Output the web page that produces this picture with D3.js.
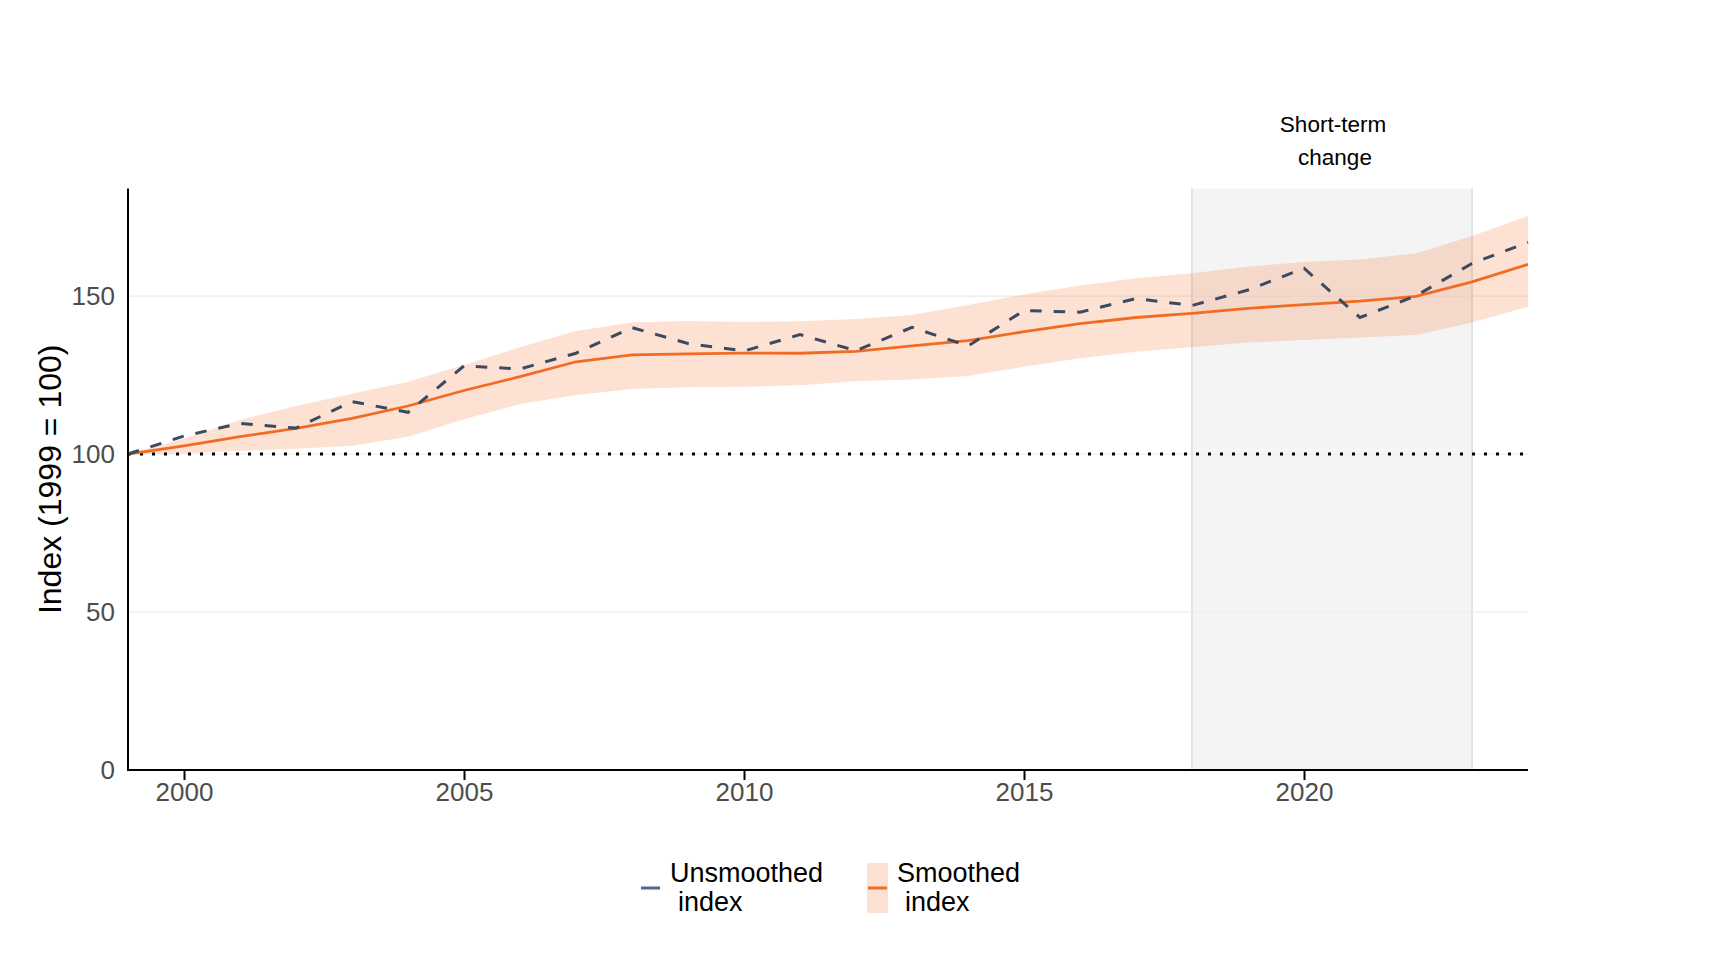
<!DOCTYPE html>
<html>
<head>
<meta charset="utf-8">
<style>
    body { margin: 0; background: white; }
    svg { display: block; font-family: "Liberation Sans", Arial, sans-serif; }
    .axis text { font-size: 26px; fill: #4d4d4d; }
    .grid line { stroke: #ebebeb; stroke-width: 1.2px; }
</style>
</head>
<body>
<svg width="1718" height="960"></svg>

<script src="https://cdn.jsdelivr.net/npm/d3@7"></script>
<script>
    // values
    let years = [1999, 2000, 2001, 2002, 2003, 2004, 2005, 2006, 2007, 2008, 2009, 2010, 2011,
                 2012, 2013, 2014, 2015, 2016, 2017, 2018, 2019, 2020, 2021, 2022, 2023, 2024]
    let unsmoothed = [100, 105.7, 109.7, 108.2, 116.6, 113.2, 127.9, 126.9, 131.9, 140.0, 135.0, 132.6, 137.8,
                      132.7, 140.1, 134.2, 145.4, 144.9, 149.2, 147.0, 151.9, 158.8, 143.2, 150.1, 160.3, 167.0]
    let smoothed = [100, 102.6, 105.5, 108.1, 111.3, 115.2, 120.1, 124.5, 129.2, 131.4, 131.7, 131.9, 131.9,
                    132.5, 134.2, 135.9, 138.7, 141.3, 143.2, 144.5, 146.1, 147.3, 148.4, 149.9, 154.5, 160.0]
    let upper = [100, 104.9, 110.8, 115.2, 119.1, 122.9, 128.2, 133.8, 138.9, 141.6, 142.1, 141.8, 142.0,
                 142.7, 144.0, 147.2, 150.5, 153.3, 155.6, 157.2, 159.3, 160.8, 161.6, 163.5, 169.0, 175.3]
    let lower = [100, 100.2, 101.0, 101.7, 102.6, 105.5, 111.0, 115.8, 118.7, 120.6, 121.1, 121.3, 121.8,
                 123.0, 123.6, 124.7, 127.6, 130.3, 132.4, 133.8, 135.3, 136.1, 136.9, 137.7, 141.6, 146.6]
    let xTicks = [2000, 2005, 2010, 2015, 2020]
    let yTicks = [0, 50, 100, 150]
    let shortTerm = [2018, 2023]
    let baseline = 100

    let orange = "#f26b23"
    let navy = "#3b4a5f"

    let svg = d3.select("svg")

    let x = d3.scaleLinear().domain([1999, 2024]).range([128, 1528])
    let y = d3.scaleLinear().domain([0, 184]).range([770, 188.6])

    let data = years.map((yr, i) => ({
        year: yr, raw: unsmoothed[i], smooth: smoothed[i], hi: upper[i], lo: lower[i]
    }))

    // short-term change band
    svg.append("rect")
        .attr("x", x(shortTerm[0]))
        .attr("y", y(184))
        .attr("width", x(shortTerm[1]) - x(shortTerm[0]))
        .attr("height", y(0) - y(184))
        .style("fill", "#f4f4f4")
    shortTerm.forEach(function (yr) {
        svg.append("line")
            .attr("x1", x(yr)).attr("x2", x(yr))
            .attr("y1", y(184)).attr("y2", y(0))
            .style("stroke", "#e2e2e2")
            .style("stroke-width", 2)
    })

    // horizontal grid
    svg.append("g")
        .attr("class", "grid")
        .selectAll("line")
        .data(yTicks)
        .join("line")
        .attr("x1", x(1999)).attr("x2", x(2024))
        .attr("y1", d => y(d)).attr("y2", d => y(d))

    // ribbon
    svg.append("path")
        .datum(data)
        .attr("d", d3.area()
            .x(d => x(d.year))
            .y0(d => y(d.lo))
            .y1(d => y(d.hi)))
        .style("fill", "rgba(245,110,40,0.2)")

    // 1999 = 100 reference
    svg.append("line")
        .attr("x1", x(1999)).attr("x2", x(2024))
        .attr("y1", y(baseline)).attr("y2", y(baseline))
        .style("stroke", "black")
        .style("stroke-width", 3)
        .style("stroke-dasharray", "3,9")

    svg.append("path")
        .datum(data)
        .attr("d", d3.line().x(d => x(d.year)).y(d => y(d.smooth)))
        .style("fill", "none")
        .style("stroke", orange)
        .style("stroke-width", 2.8)

    svg.append("path")
        .datum(data)
        .attr("d", d3.line().x(d => x(d.year)).y(d => y(d.raw)))
        .style("fill", "none")
        .style("stroke", navy)
        .style("stroke-width", 3)
        .style("stroke-dasharray", "11.5,12")

    // axes
    let xAxis = svg.append("g")
        .attr("class", "x axis")
        .attr("transform", `translate(0,${y(0)})`)
        .call(d3.axisBottom(x).tickValues(xTicks).tickFormat(d3.format("d")).tickSize(10).tickPadding(3).tickSizeOuter(0))
        .call(g => g.select(".domain").remove())
        .call(g => g.selectAll(".tick line").style("stroke", "black").style("stroke-width", 2))

    svg.append("g")
        .attr("class", "y axis")
        .attr("transform", `translate(${x(1999)},0)`)
        .call(d3.axisLeft(y).tickValues(yTicks).tickSize(0).tickPadding(13))
        .call(g => g.select(".domain").remove())

    svg.append("line")
        .attr("x1", x(1999)).attr("x2", x(1999))
        .attr("y1", y(184)).attr("y2", y(0) + 1)
        .style("stroke", "black").style("stroke-width", 2)
    svg.append("line")
        .attr("x1", x(1999) - 1).attr("x2", x(2024))
        .attr("y1", y(0)).attr("y2", y(0))
        .style("stroke", "black").style("stroke-width", 2)

    // y title
    svg.append("text")
        .attr("transform", `translate(61,${(y(0) + y(184)) / 2}) rotate(-90)`)
        .attr("text-anchor", "middle")
        .style("font-size", "32px")
        .style("fill", "black")
        .text("Index (1999 = 100)")

    // annotation
    let mid = x((shortTerm[0] + shortTerm[1]) / 2)
    svg.append("text")
        .attr("x", mid + 1).attr("y", 132)
        .attr("text-anchor", "middle")
        .style("font-size", "22.5px")
        .text("Short-term")
    svg.append("text")
        .attr("x", mid + 3).attr("y", 165)
        .attr("text-anchor", "middle")
        .style("font-size", "22.5px")
        .text("change")

    // legend
    let legend = svg.append("g").style("font-size", "27px")

    legend.append("line")
        .attr("x1", 641).attr("x2", 660)
        .attr("y1", 888).attr("y2", 888)
        .style("stroke", "#4a6b8a").style("stroke-width", 3)
    legend.append("text").attr("x", 670).attr("y", 882).text("Unsmoothed")
    legend.append("text").attr("x", 678).attr("y", 911).text("index")

    legend.append("rect")
        .attr("x", 867).attr("y", 863)
        .attr("width", 21).attr("height", 50)
        .style("fill", "rgba(245,110,40,0.2)")
    legend.append("line")
        .attr("x1", 868).attr("x2", 887)
        .attr("y1", 888).attr("y2", 888)
        .style("stroke", orange).style("stroke-width", 3)
    legend.append("text").attr("x", 897).attr("y", 882).text("Smoothed")
    legend.append("text").attr("x", 905).attr("y", 911).text("index")
</script>
</body>
</html>
